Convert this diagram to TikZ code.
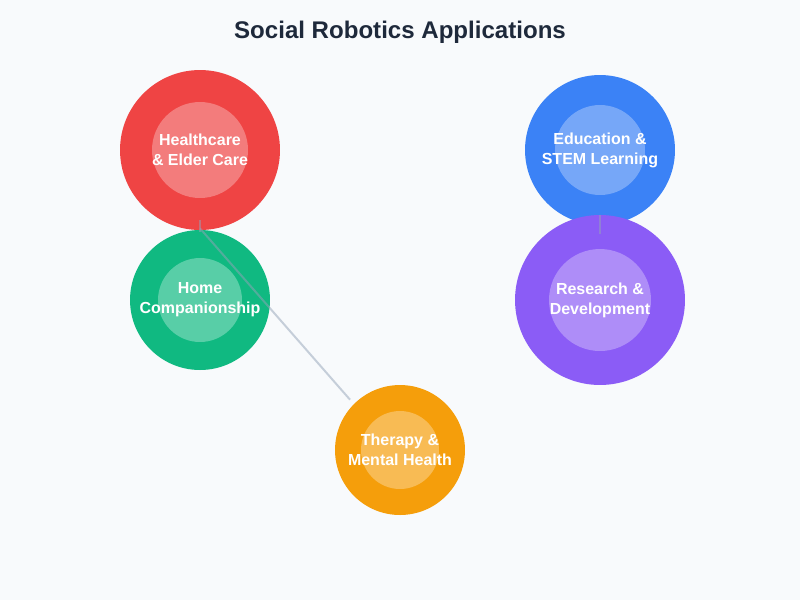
\documentclass[tikz,border=0pt]{standalone}
\usepackage{fontspec}
\setmainfont{Liberation Sans}
\usepackage{tikz}
\usetikzlibrary{positioning}

\definecolor{bgcol}{HTML}{F8FAFC}
\definecolor{titlecol}{HTML}{1E293B}
\definecolor{healthcol}{HTML}{EF4444}
\definecolor{educol}{HTML}{3B82F6}
\definecolor{homecol}{HTML}{10B981}
\definecolor{researchcol}{HTML}{8B5CF6}
\definecolor{therapycol}{HTML}{F59E0B}
\definecolor{linkcol}{HTML}{94A3B8}

\tikzset{
  app/.style={circle, inner sep=0pt},
  core/.style={app, fill=white, fill opacity=0.3},
  label/.style={text=white, align=center, inner sep=0pt,
    font=\bfseries\fontsize{9.1}{11.4}\selectfont},
  link/.style={draw=linkcol, line width=0.04cm, opacity=0.5}
}

\begin{document}
\begin{tikzpicture}[x=0.02cm, y=-0.02cm]
\fill[bgcol] (0, 0) rectangle (800, 600);

\coordinate (H) at (200, 150);
\coordinate (E) at (600, 150);
\coordinate (C) at (200, 300);
\coordinate (R) at (600, 300);
\coordinate (T) at (400, 450);

\node[text=titlecol, font=\bfseries\fontsize{13.7}{16}\selectfont] (title) at (400, 32) {Social Robotics Applications};

\node[app, fill=healthcol, minimum size=3.2cm] (health) at (H) {};
\node[core, minimum size=1.92cm] (healthin) at (H) {};
\node[label] (healthtxt) at (H) {Healthcare\\\& Elder Care};

\node[app, fill=educol, minimum size=3cm] (edu) at (E) {};
\node[core, minimum size=1.8cm] (eduin) at (E) {};
\node[label] (edutxt) at (E) {Education \&\\STEM Learning};

\node[app, fill=homecol, minimum size=2.8cm] (home) at (C) {};
\node[core, minimum size=1.68cm] (homein) at (C) {};
\node[label] (hometxt) at (C) {Home\\Companionship};

\node[app, fill=researchcol, minimum size=3.4cm] (research) at (R) {};
\node[core, minimum size=2.04cm] (researchin) at (R) {};
\node[label] (researchtxt) at (R) {Research \&\\Development};

\node[app, fill=therapycol, minimum size=2.6cm] (therapy) at (T) {};
\node[core, minimum size=1.56cm] (therapyin) at (T) {};
\node[label] (therapytxt) at (T) {Therapy \&\\Mental Health};

\coordinate (hfoot) at ([yshift=0.2cm]health.south);
\coordinate (hknee) at ([yshift=0.04cm]health.south);
\coordinate (ctop) at ([yshift=-0.04cm]home.north);
\coordinate (tnear) at ([xshift=-1cm, yshift=-0.3cm]therapy.north);
\coordinate (rtop) at ([yshift=-0.38cm]research.north);

\draw[link] (hfoot) -- (ctop);
\draw[link] (hknee) -- (tnear);
\draw[link] (research.north) -- (rtop);
\end{tikzpicture}
\end{document}
